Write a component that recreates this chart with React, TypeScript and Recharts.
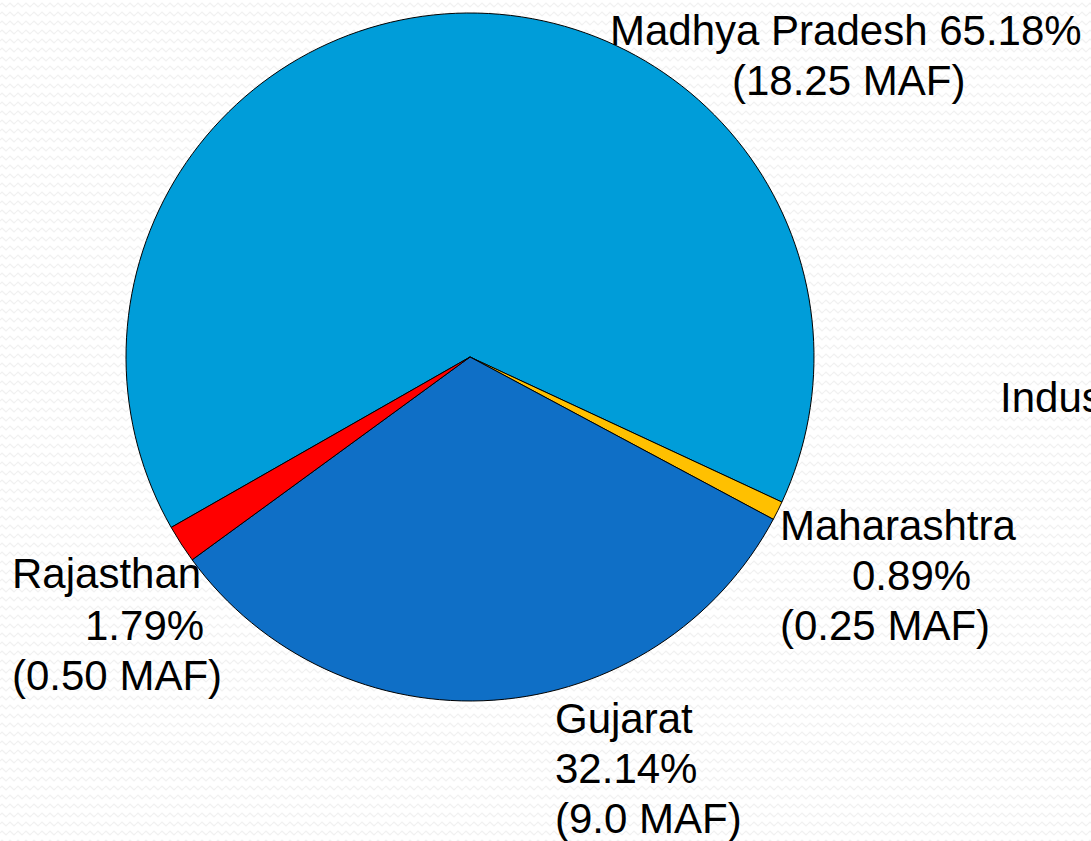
import React from "react";
import { PieChart, Pie, Cell } from "recharts";

const states = ["Madhya Pradesh", "Maharashtra", "Gujarat", "Rajasthan"];
const mafValues = [18.25, 0.25, 9.0, 0.5];
const percentLabels = ["65.18%", "0.89%", "32.14%", "1.79%"];
const mafLabels = ["(18.25 MAF)", "(0.25 MAF)", "(9.0 MAF)", "(0.50 MAF)"];
const sliceColors = ["#009DD9", "#FFC000", "#0F6FC6", "#FF0000"];

const data = states.map((name, i) => ({ name, value: mafValues[i] }));

type Line = { text: string; x: number; y: number };
const labelLayout: Record<string, (i: number) => Line[]> = {
  "Madhya Pradesh": (i) => [
    { text: `${states[i]} ${percentLabels[i]}`, x: 610, y: 45 },
    { text: mafLabels[i], x: 732, y: 95 },
  ],
  Maharashtra: (i) => [
    { text: states[i], x: 780, y: 540 },
    { text: percentLabels[i], x: 852, y: 590 },
    { text: mafLabels[i], x: 780, y: 640 },
  ],
  Gujarat: (i) => [
    { text: states[i], x: 555, y: 733 },
    { text: percentLabels[i], x: 555, y: 783 },
    { text: mafLabels[i], x: 555, y: 833 },
  ],
  Rajasthan: (i) => [
    { text: states[i], x: 12, y: 588 },
    { text: percentLabels[i], x: 85, y: 640 },
    { text: mafLabels[i], x: 12, y: 690 },
  ],
};

const FONT = "Liberation Sans";

const renderLabel = (props: any) => {
  const { name, index } = props;
  const lines = labelLayout[name] ? labelLayout[name](index) : [];
  return (
    <g key={`lbl-${index}`}>
      {lines.map((l, k) => (
        <text
          key={k}
          x={l.x}
          y={l.y}
          fill="#000"
          fontSize={42}
          fontFamily={FONT}
          textAnchor="start"
        >
          {l.text}
        </text>
      ))}
    </g>
  );
};

export default function App() {
  return (
    <div
      style={{
        position: "absolute",
        left: 0,
        top: 0,
        width: 1091,
        height: 841,
        overflow: "hidden",
        background: "#ffffff",
      }}
    >
      <svg
        width={1091}
        height={841}
        style={{ position: "absolute", left: 0, top: 0 }}
      >
        <defs>
          <pattern id="wave" width="8" height="9" patternUnits="userSpaceOnUse">
            <polyline
              points="0,5 2,3 4,5 6,7 8,5"
              fill="none"
              stroke="#f1f1f1"
              strokeWidth="1.2"
            />
          </pattern>
        </defs>
        <rect width={1091} height={841} fill="url(#wave)" />
        <text x={1000} y={412} fontSize={42} fontFamily={FONT} fill="#000">
          Indus
        </text>
      </svg>
      <div style={{ position: "absolute", left: 0, top: 0 }}>
        <PieChart width={1091} height={841} margin={{ top: 0, right: 0, bottom: 0, left: 0 }}>
          <Pie
            data={data}
            dataKey="value"
            nameKey="name"
            cx={470}
            cy={357}
            outerRadius={344}
            startAngle={209.7}
            endAngle={-150.3}
            stroke="#000"
            strokeWidth={1}
            label={renderLabel}
            labelLine={false}
            isAnimationActive={false}
          >
            {data.map((d, i) => (
              <Cell key={d.name} fill={sliceColors[i]} />
            ))}
          </Pie>
        </PieChart>
      </div>
    </div>
  );
}
